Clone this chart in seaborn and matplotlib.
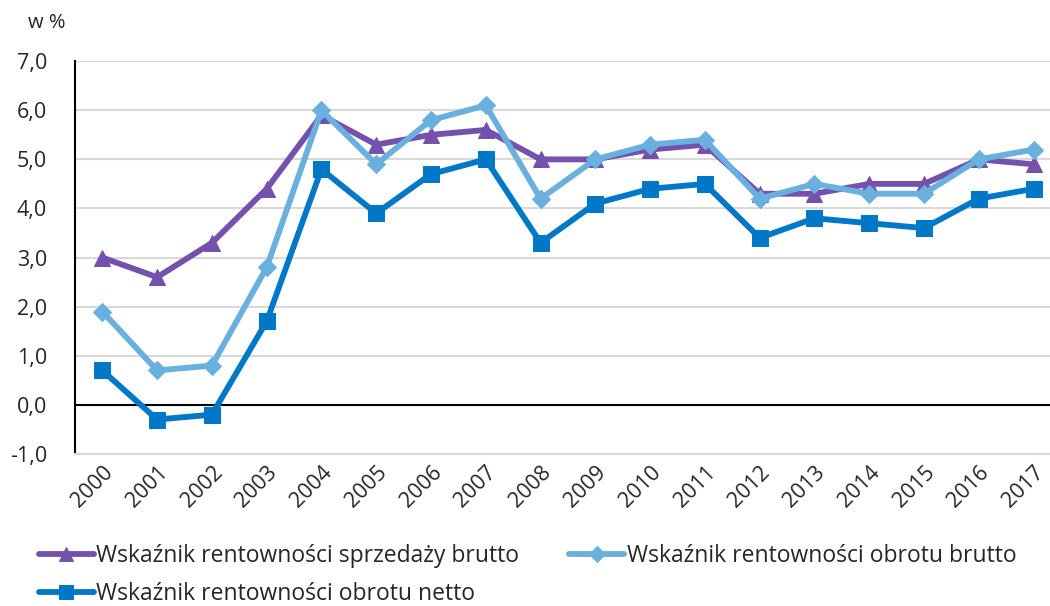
import matplotlib
matplotlib.use("Agg")
import matplotlib.pyplot as plt
import seaborn as sns
import pandas as pd
from matplotlib.ticker import FuncFormatter

years = [str(y) for y in range(2000, 2018)]
sprzedazy_brutto = [3.0, 2.6, 3.3, 4.4, 5.9, 5.3, 5.5, 5.6, 5.0, 5.0, 5.2, 5.3, 4.3, 4.3, 4.5, 4.5, 5.0, 4.9]
obrotu_brutto = [1.9, 0.7, 0.8, 2.8, 6.0, 4.9, 5.8, 6.1, 4.2, 5.0, 5.3, 5.4, 4.2, 4.5, 4.3, 4.3, 5.0, 5.2]
obrotu_netto = [0.7, -0.3, -0.2, 1.7, 4.8, 3.9, 4.7, 5.0, 3.3, 4.1, 4.4, 4.5, 3.4, 3.8, 3.7, 3.6, 4.2, 4.4]
series_names = ["Wskaźnik rentowności sprzedaży brutto",
                "Wskaźnik rentowności obrotu brutto",
                "Wskaźnik rentowności obrotu netto"]
y_ticks = [-1, 0, 1, 2, 3, 4, 5, 6, 7]

sns.set_theme(style="white")
plt.rcParams['font.family'] = ['Open Sans', 'DejaVu Sans']

fig = plt.figure(figsize=(10.5, 6.06), dpi=100)
ax = fig.add_axes([0.0714, 0.251, 0.9286, 0.648])

styles = [
    dict(color="#7451AC", marker="^", markersize=11),
    dict(color="#6AB0DE", marker="D", markersize=9),
    dict(color="#0078C8", marker="s", markersize=11),
]
all_vals = [sprzedazy_brutto, obrotu_brutto, obrotu_netto]
x = list(range(len(years)))
for name, vals, st in zip(series_names, all_vals, styles):
    df = pd.DataFrame({"x": x, "v": vals})
    sns.lineplot(data=df, x="x", y="v", ax=ax, color=st["color"], linewidth=4.2,
                 marker=st["marker"], markersize=st["markersize"],
                 markeredgecolor=st["color"], markerfacecolor=st["color"],
                 label=name, zorder=3)

ax.set_xlim(-0.5, 17.3)
ax.set_ylim(-1, 7)
ax.set_yticks(y_ticks)
ax.yaxis.set_major_formatter(FuncFormatter(lambda v, p: f"{v:.1f}".replace(".", ",")))
ax.set_xticks(x)
ax.set_xticklabels(years, rotation=45, ha="right", rotation_mode="anchor", fontsize=15.5)
ax.tick_params(axis="y", labelsize=15.5, length=0, pad=20)
ax.tick_params(axis="x", length=0, pad=6)
ax.set_xlabel("")
ax.set_ylabel("")
ax.grid(axis="y", color="#d9d9d9", linewidth=1.5, zorder=0)
ax.axhline(0, color="black", linewidth=1.5, zorder=2)
for s in ["top", "right"]:
    ax.spines[s].set_visible(False)
ax.spines["bottom"].set_color("#d9d9d9")
ax.spines["bottom"].set_linewidth(1.5)
ax.spines["left"].set_color("black")
ax.spines["left"].set_linewidth(1.5)

fig.text(0.027, 0.962, "w %", fontsize=14.5, ha="left", va="center")

handles, labels = ax.get_legend_handles_labels()
ax.get_legend().remove()
order = [0, 2, 1]
fig.legend([handles[i] for i in order], [labels[i] for i in order],
           loc="upper left", bbox_to_anchor=(0.028, 0.117), ncol=2,
           frameon=False, handlelength=2.4, handletextpad=0.1,
           columnspacing=2.2, labelspacing=0.62, markerscale=0.9,
           borderaxespad=0.2, borderpad=0.2,
           prop={"family": ["Open Sans", "DejaVu Sans"], "size": 16.5})

fig.savefig("out.png", dpi=100)
